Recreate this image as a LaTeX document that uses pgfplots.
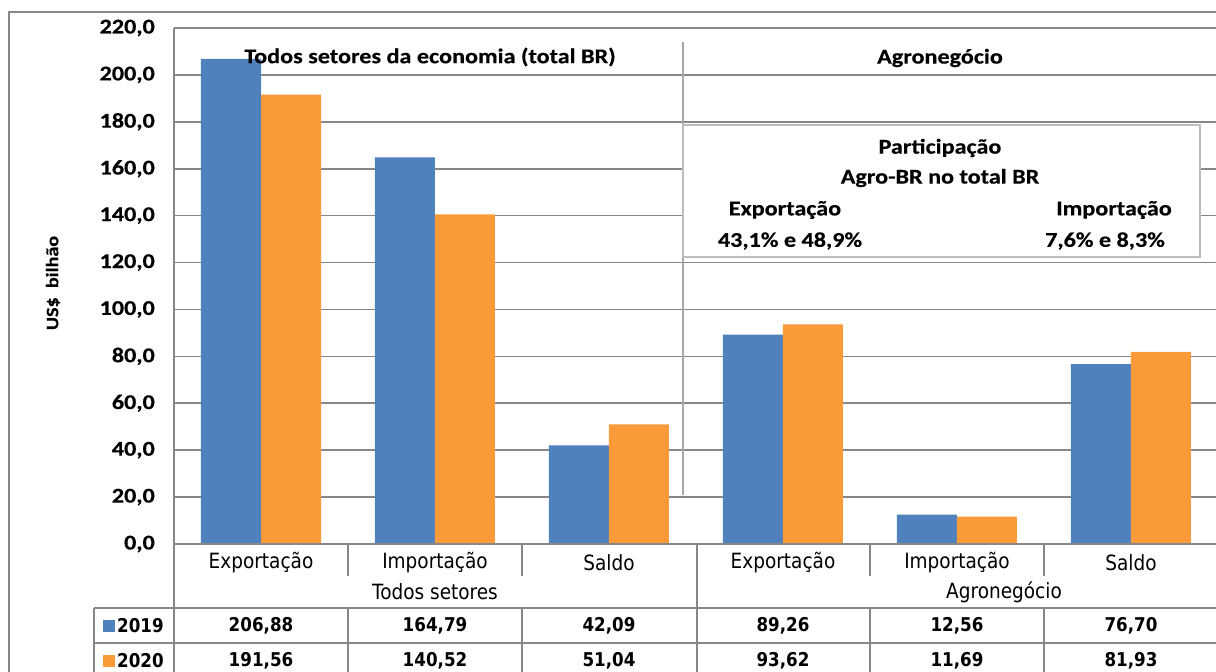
\documentclass[border=0pt]{standalone}
\usepackage{fontspec}
\setmainfont{Carlito}[FakeStretch=1.15, BoldFeatures={FakeBold=0.3}]
\newfontfamily\tabfont{DejaVu Sans}[FakeStretch=0.88]
\usepackage{pgfplots}
\pgfplotsset{compat=1.18}

\definecolor{barblue}{HTML}{4F81BD}
\definecolor{barorange}{HTML}{FA9A38}
\definecolor{gridgray}{HTML}{878787}
\definecolor{linegray}{HTML}{A8A8A8}
\definecolor{boxgray}{HTML}{BDBDBD}

\newcommand{\lbl}{\fontsize{21}{25}\selectfont\bfseries}
\newcommand{\tab}{\tabfont\fontsize{21}{24}\selectfont}
\newcommand{\tabv}{\tabfont\fontsize{19}{22}\selectfont\bfseries}

\begin{document}
\begin{tikzpicture}[x=1pt, y=-1pt]
\path[use as bounding box] (0,0) rectangle (1216,672);

% outer chart border
\draw[gridgray, line width=1.2pt] (9,672) -- (9,12) -- (1216,12);

\begin{axis}[
  at={(174pt,-544pt)}, anchor=south west,
  width=1044pt, height=516pt, scale only axis,
  xmin=-0.5, xmax=5.5, ymin=0, ymax=220,
  ytick={0,20,...,220}, xtick=\empty,
  ymajorgrids, major grid style={draw=gridgray, line width=1.6pt},
  axis line style={draw=none}, tick style={draw=none},
  yticklabel style={font=\lbl, anchor=east, inner sep=0pt, xshift=-19pt},
  /pgf/number format/.cd, fixed, fixed zerofill, precision=1, use comma, assume math mode=true,
  /pgfplots/.cd,
  clip=false,
]
% 2019
\addplot[ybar, bar width=60pt, bar shift=-30pt, fill=barblue, draw=none]
  coordinates {(0,206.88) (1,164.79) (2,42.09) (3,89.26) (4,12.56) (5,76.70)};
% 2020
\addplot[ybar, bar width=60pt, bar shift=30pt, fill=barorange, draw=none]
  coordinates {(0,191.56) (1,140.52) (2,51.04) (3,93.62) (4,11.69) (5,81.93)};
\end{axis}

% y label
\node[rotate=90, font=\fontsize{17.5}{21}\selectfont\bfseries] at (53,283) {US\$\ \ bilhão};

% section titles and divider
\draw[linegray, line width=1.5pt] (683,42) -- (683,495);
\node[font=\lbl] at (430,57) {Todos setores da economia (total BR)};
\node[font=\lbl] at (940,58) {Agronegócio};

% inset box
\draw[boxgray, line width=1.3pt, fill=white] (683,125) rectangle (1200,257);
\node[font=\lbl] at (940,148) {Participação};
\node[font=\lbl] at (940,178) {Agro-BR no total BR};
\node[font=\lbl] at (785,210) {Exportação};
\node[font=\lbl] at (790,241) {43,1\% e 48,9\%};
\node[font=\lbl] at (1114,210) {Importação};
\node[font=\lbl] at (1105,241) {7,6\% e 8,3\%};

% data table grid
\begin{scope}[gridgray, line width=1.5pt]
\draw (174,28) -- (174,672);
\draw (174,544) -- (1216,544);
\draw (94,608) -- (1216,608);
\draw (94,643) -- (1216,643);
\draw (94,608) -- (94,672);
\draw (697,544) -- (697,672);
\foreach \xx in {348,522,870,1044} {
  \draw (\xx,544) -- (\xx,576);
  \draw (\xx,608) -- (\xx,672);
}
\end{scope}

% category labels
\foreach \cx/\name in {261/Exportação,435/Importação,609/Saldo,783/Exportação,957/Importação,1131/Saldo}
  \node[font=\tab] at (\cx,563) {\name};
\node[font=\tab] at (435,592) {Todos setores};
\node[font=\tab] at (1004,592) {Agronegócio};

% legend keys
\fill[barblue] (103,620) rectangle (115,632);
\fill[barorange] (103,655) rectangle (115,667);
\node[font=\tabv, anchor=west, inner sep=0pt] at (117,626) {2019};
\node[font=\tabv, anchor=west, inner sep=0pt] at (117,661) {2020};

% table values
\foreach \cx/\va/\vb in {261/{206,88}/{191,56},435/{164,79}/{140,52},609/{42,09}/{51,04},783/{89,26}/{93,62},957/{12,56}/{11,69},1131/{76,70}/{81,93}} {
  \node[font=\tabv] at (\cx,626) {\va};
  \node[font=\tabv] at (\cx,661) {\vb};
}
\end{tikzpicture}
\end{document}
